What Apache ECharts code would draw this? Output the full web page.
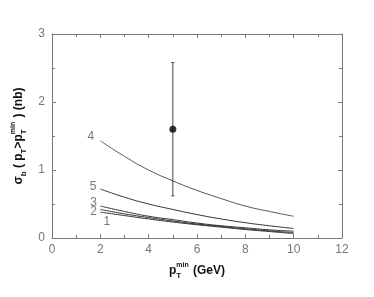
<!DOCTYPE html>
<html><head><meta charset="utf-8">
<script src="https://cdn.jsdelivr.net/npm/echarts@6/dist/echarts.min.js"></script>
<style>html,body{margin:0;padding:0;background:#fff}#c{width:374px;height:297px}</style>
</head><body><div id="c"></div>
<script>
const ptMin = [2, 3, 4, 5, 6, 7, 8, 9, 10];
const curve1 = [0.38, 0.33, 0.28, 0.235, 0.195, 0.16, 0.125, 0.095, 0.065];
const curve2 = [0.42, 0.355, 0.30, 0.25, 0.205, 0.17, 0.135, 0.105, 0.08];
const curve3 = [0.47, 0.39, 0.32, 0.27, 0.22, 0.18, 0.15, 0.12, 0.10];
const curve4 = [1.43, 1.20, 1.00, 0.84, 0.70, 0.58, 0.47, 0.39, 0.32];
const curve5 = [0.72, 0.60, 0.50, 0.42, 0.345, 0.28, 0.225, 0.18, 0.14];
const curveNames = ['1', '2', '3', '4', '5'];
const curveLabelX = [2.27, 1.72, 1.72, 1.61, 1.70];
const curveLabelY = [0.24, 0.38, 0.52, 1.49, 0.76];
const dataX = [5];
const dataY = [1.6];
const dataLow = [0.62];
const dataHigh = [2.58];
const xTicks = [0, 2, 4, 6, 8, 10, 12];
const yTicks = [0, 1, 2, 3];

const curves = [curve1, curve2, curve3, curve4, curve5];
const font = 'Liberation Sans, Arial, sans-serif';
const axisCol = '#777';

const chart = echarts.init(document.getElementById('c'), null, {renderer: 'canvas'});
function mkAxis(ticks, interval, extra) {
  return Object.assign({
    type: 'value', min: ticks[0], max: ticks[ticks.length - 1], interval: interval,
    axisLine: {show: true, onZero: false, lineStyle: {color: axisCol, width: 1}},
    axisTick: {show: true, inside: true, length: 4, lineStyle: {color: axisCol}},
    minorTick: {show: true, splitNumber: 2, length: 3, lineStyle: {color: axisCol}},
    splitLine: {show: false}
  }, extra);
}

const series = curves.map((c, i) => ({
  type: 'line', xAxisIndex: 0, yAxisIndex: 0,
  data: ptMin.map((x, j) => [x, c[j]]),
  smooth: 0.5, showSymbol: false, symbol: 'none',
  lineStyle: {color: i === 3 ? '#555' : '#333', width: 1},
  silent: true, z: 3
}));
series.push({
  type: 'scatter', xAxisIndex: 0, yAxisIndex: 0,
  data: curveNames.map((n, i) => ({value: [curveLabelX[i], curveLabelY[i]], name: n})),
  symbolSize: 1, itemStyle: {color: 'rgba(0,0,0,0)'},
  label: {show: true, position: 'inside', formatter: p => p.name, color: '#555', fontFamily: font, fontSize: 12},
  silent: true, z: 4
});
series.push({
  type: 'custom', xAxisIndex: 0, yAxisIndex: 0,
  data: dataX.map((x, i) => [x, dataLow[i], dataHigh[i]]),
  renderItem: (params, api) => {
    const lo = api.coord([api.value(0), api.value(1)]);
    const hi = api.coord([api.value(0), api.value(2)]);
    const st = {stroke: '#444', lineWidth: 1};
    return {type: 'group', children: [
      {type: 'line', shape: {x1: lo[0], y1: lo[1], x2: hi[0], y2: hi[1]}, style: st},
      {type: 'line', shape: {x1: lo[0] - 1.5, y1: lo[1], x2: lo[0] + 1.5, y2: lo[1]}, style: st},
      {type: 'line', shape: {x1: hi[0] - 1.5, y1: hi[1], x2: hi[0] + 1.5, y2: hi[1]}, style: st}
    ]};
  },
  silent: true, z: 5
});
series.push({
  type: 'scatter', xAxisIndex: 0, yAxisIndex: 0,
  data: dataX.map((x, i) => [x, dataY[i]]),
  symbol: 'circle', symbolSize: 7, itemStyle: {color: '#000'},
  silent: true, z: 6
});

const richStyle = {
  b: {fontSize: 12, fontWeight: 'bold', color: '#111', fontFamily: font, verticalAlign: 'middle', lineHeight: 18},
  sub: {fontSize: 8, fontWeight: 'bold', color: '#111', fontFamily: font, verticalAlign: 'bottom', lineHeight: 18},
  sup: {fontSize: 7, fontWeight: 'bold', color: '#111', fontFamily: font, verticalAlign: 'top', lineHeight: 18, padding: [0, 1, 0, -5]}
};

chart.setOption({
  animation: false,
  backgroundColor: '#fff',
  grid: {left: 52, right: 32, top: 34, bottom: 59, containLabel: false},
  xAxis: [
    mkAxis(xTicks, 2, {
      position: 'bottom',
      axisLabel: {color: axisCol, fontFamily: font, fontSize: 12, margin: 6},
      name: '{b|p}{sub|T}{sup|min}{b| (GeV)}',
      nameLocation: 'middle', nameGap: 24,
      nameTextStyle: {fontFamily: font, rich: richStyle}
    }),
    mkAxis(xTicks, 2, {position: 'top', axisLabel: {show: false}})
  ],
  yAxis: [
    mkAxis(yTicks, 1, {
      position: 'left',
      axisLabel: {color: axisCol, fontFamily: font, fontSize: 12, margin: 7},
      name: '{b|σ}{sub|b}{b| ( p}{sub|T}{b|>p}{sub|T}{sup|min}{b| ) (nb)}',
      nameLocation: 'middle', nameGap: 20, nameRotate: 90,
      nameTextStyle: {fontFamily: font, rich: richStyle}
    }),
    mkAxis(yTicks, 1, {position: 'right', axisLabel: {show: false}})
  ],
  series: series
});
</script></body></html>
